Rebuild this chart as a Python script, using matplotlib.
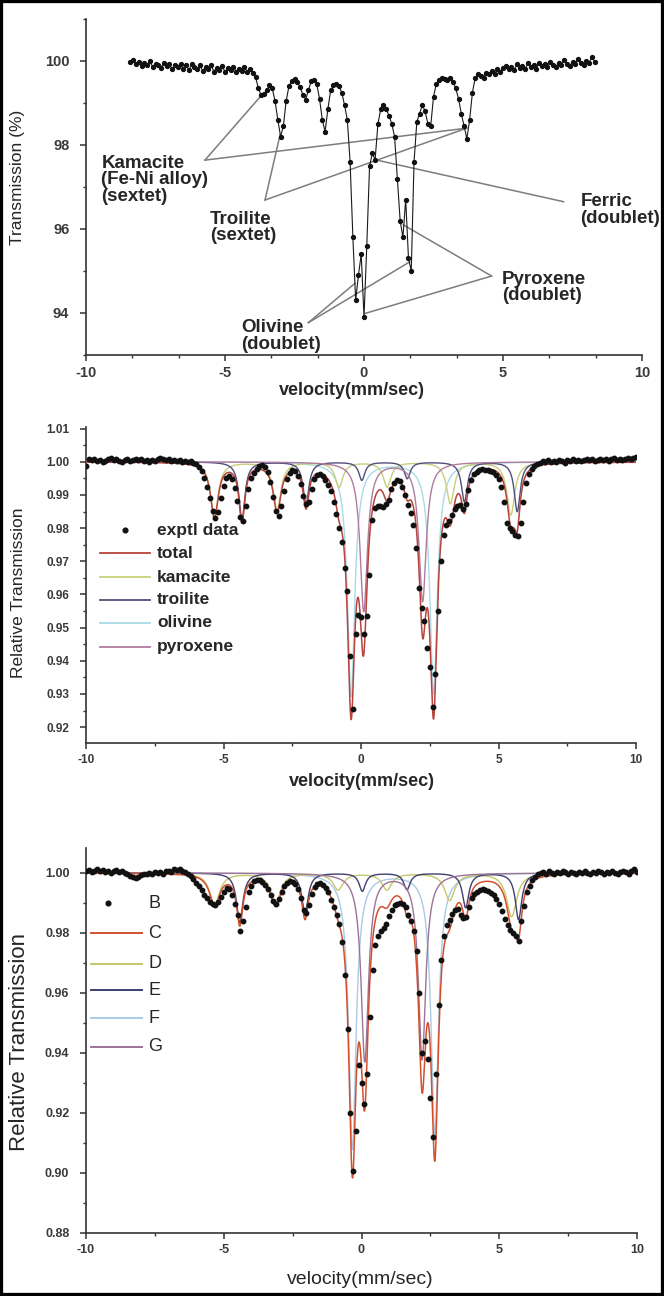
import numpy as np
import matplotlib
matplotlib.use("Agg")
import matplotlib.pyplot as plt
from matplotlib.ticker import MultipleLocator, FormatStrFormatter
from matplotlib.patches import Rectangle

plt.rcParams['font.family'] = ['Liberation Sans', 'DejaVu Sans']
plt.rcParams['axes.unicode_minus'] = False

# ---------------- Panel 1 : measured spectrum (Transmission %) ----------------
p1_left_range = (-8.4, -4.0)
p1_left_y = [99.98, 100.02, 99.93, 99.97, 99.88, 99.95, 99.90, 99.99, 99.86, 99.94,
             99.90, 99.83, 99.96, 99.88, 99.92, 99.80, 99.90, 99.86, 99.94, 99.82,
             99.90, 99.78, 99.92, 99.85, 99.80, 99.90, 99.76, 99.86, 99.81, 99.90,
             99.75, 99.84, 99.79, 99.88, 99.74, 99.83, 99.78, 99.86, 99.75, 99.82,
             99.77, 99.85, 99.74, 99.80, 99.72]
p1_mid_range = (-3.9, 4.1)
p1_mid_y = [99.62, 99.35, 99.18, 99.22, 99.30, 99.42, 99.35, 99.05, 98.60, 98.20,
            98.45, 99.05, 99.40, 99.52, 99.58, 99.50, 99.38, 99.20, 99.08, 99.30,
            99.52, 99.55, 99.45, 99.10, 98.60, 98.32, 98.85, 99.30, 99.42, 99.45,
            99.40, 99.25, 98.95, 98.60, 97.60, 95.80, 94.30, 94.90, 95.40, 93.90,
            95.60, 97.50, 97.80, 97.65, 98.50, 98.85, 98.95, 98.85, 98.70, 98.50,
            98.20, 97.20, 96.20, 95.80, 96.70, 95.30, 95.00, 97.60, 98.55, 98.75,
            98.95, 98.80, 98.50, 98.45, 99.15, 99.45, 99.55, 99.60, 99.58, 99.55,
            99.60, 99.50, 99.35, 99.10, 98.75, 98.45, 98.15, 98.60, 99.25, 99.60,
            99.68]
p1_right_range = (4.2, 8.3)
p1_right_y = [99.65, 99.60, 99.72, 99.68, 99.76, 99.70, 99.80, 99.74, 99.84, 99.88,
              99.80, 99.86, 99.78, 99.92, 99.84, 99.88, 99.80, 99.95, 99.86, 99.90,
              99.82, 99.96, 99.88, 99.93, 99.85, 99.98, 99.90, 99.86, 99.95, 99.90,
              100.02, 99.92, 99.88, 99.97, 99.93, 100.05, 99.95, 99.90, 100.00, 99.96,
              100.10, 99.98]

# ---------------- Panel 2 : fitted spectrum ----------------
p2_range = (-10.0, 10.0)
p2_data = [0.9988, 1.0007, 1.0004, 1.0008, 1.0002, 1.0006, 0.9999, 1.0003, 1.0009, 1.0011,
           1.0005, 1.0008, 1.0002, 0.9998, 1.0004, 1.0007, 1.0001, 1.0006, 1.0010, 1.0004,
           1.0008, 1.0002, 1.0005, 1.0000, 1.0006, 1.0003, 1.0009, 1.0013, 1.0008, 1.0004,
           1.0007, 1.0002, 1.0005, 1.0001, 1.0004, 1.0000, 1.0003, 0.9999, 1.0001, 0.9996,
           0.9992, 0.9984, 0.9972, 0.9952, 0.9925, 0.9890, 0.9852, 0.9830, 0.9848, 0.9892,
           0.9928, 0.9952, 0.9958, 0.9948, 0.9922, 0.9882, 0.9835, 0.9822, 0.9868, 0.9918,
           0.9950, 0.9966, 0.9978, 0.9986, 0.9991, 0.9984, 0.9968, 0.9938, 0.9895, 0.9852,
           0.9836, 0.9866, 0.9912, 0.9948, 0.9966, 0.9976, 0.9972, 0.9958, 0.9932, 0.9896,
           0.9872, 0.9878, 0.9918, 0.9948, 0.9960, 0.9962, 0.9956, 0.9946, 0.9930, 0.9912,
           0.9880, 0.9842, 0.9800, 0.9758, 0.9680, 0.9610, 0.9413, 0.9255, 0.9480, 0.9538,
           0.9532, 0.9482, 0.9535, 0.9660, 0.9825, 0.9862, 0.9868, 0.9866, 0.9865, 0.9872,
           0.9885, 0.9918, 0.9935, 0.9946, 0.9942, 0.9925, 0.9900, 0.9870, 0.9845, 0.9810,
           0.9740, 0.9620, 0.9560, 0.9520, 0.9440, 0.9380, 0.9262, 0.9360, 0.9550, 0.9700,
           0.9780, 0.9808, 0.9822, 0.9840, 0.9858, 0.9866, 0.9870, 0.9858, 0.9872, 0.9915,
           0.9945, 0.9962, 0.9970, 0.9975, 0.9977, 0.9976, 0.9974, 0.9972, 0.9968, 0.9960,
           0.9948, 0.9925, 0.9880, 0.9815, 0.9800, 0.9790, 0.9778, 0.9775, 0.9815, 0.9880,
           0.9935, 0.9962, 0.9978, 0.9988, 0.9993, 0.9997, 1.0002, 0.9998, 1.0004, 0.9999,
           1.0003, 1.0000, 1.0005, 1.0001, 0.9997, 1.0004, 1.0002, 1.0007, 1.0003, 1.0006,
           1.0001, 1.0005, 1.0009, 1.0004, 1.0007, 1.0002, 1.0006, 1.0010, 1.0005, 1.0008,
           1.0003, 1.0007, 1.0011, 1.0006, 1.0009, 1.0004, 1.0010, 1.0013, 1.0008, 1.0012,
           1.0015]
# fitted sub-spectra: line positions (mm/s), absorption depths, half widths
p2_kamacite_pos = [-5.33, -3.05, -0.80, 0.95, 3.25, 5.45]
p2_kamacite_depth = [0.0165, 0.0145, 0.0075, 0.0075, 0.0125, 0.0160]
p2_kamacite_hw = 0.17
p2_troilite_pos = [-4.33, -2.00, 0.03, 1.68, 3.76, 5.68]
p2_troilite_depth = [0.0175, 0.0125, 0.0055, 0.0050, 0.0120, 0.0150]
p2_troilite_hw = 0.13
p2_olivine_pos = [-0.36, 2.64]
p2_olivine_depth = [0.0706, 0.0700]
p2_olivine_hw = 0.16
p2_pyroxene_pos = [0.10, 2.24]
p2_pyroxene_depth = [0.0450, 0.0420]
p2_pyroxene_hw = 0.16
p2_legend = ["exptl data", "total", "kamacite", "troilite", "olivine", "pyroxene"]

# ---------------- Panel 3 : refit spectrum ----------------
p3_range = (-10.0, 10.0)
p3_data = [1.0006, 1.0010, 1.0004, 1.0008, 1.0012, 1.0005, 1.0009, 1.0003, 1.0007, 1.0001,
           1.0005, 1.0009, 1.0003, 1.0006, 1.0000, 0.9996, 0.9990, 0.9985, 0.9982, 0.9988,
           0.9994, 0.9998, 0.9995, 1.0000, 0.9997, 1.0003, 0.9999, 1.0002, 0.9998, 1.0005,
           1.0008, 1.0004, 1.0012, 1.0009, 1.0013, 1.0006, 1.0004, 0.9998, 0.9990, 0.9980,
           0.9968, 0.9955, 0.9942, 0.9928, 0.9915, 0.9903, 0.9895, 0.9893, 0.9902, 0.9920,
           0.9938, 0.9950, 0.9946, 0.9925, 0.9895, 0.9860, 0.9805, 0.9840, 0.9888, 0.9935,
           0.9958, 0.9972, 0.9978, 0.9976, 0.9970, 0.9960, 0.9945, 0.9928, 0.9905, 0.9895,
           0.9912, 0.9935, 0.9958, 0.9968, 0.9972, 0.9970, 0.9962, 0.9945, 0.9915, 0.9875,
           0.9865, 0.9892, 0.9930, 0.9952, 0.9963, 0.9966, 0.9960, 0.9950, 0.9935, 0.9910,
           0.9885, 0.9860, 0.9830, 0.9770, 0.9660, 0.9480, 0.9200, 0.9005, 0.9140, 0.9360,
           0.9300, 0.9230, 0.9330, 0.9520, 0.9676, 0.9760, 0.9790, 0.9805, 0.9818, 0.9830,
           0.9855, 0.9875, 0.9893, 0.9898, 0.9900, 0.9895, 0.9885, 0.9860, 0.9840, 0.9805,
           0.9740, 0.9600, 0.9400, 0.9440, 0.9380, 0.9250, 0.9120, 0.9330, 0.9560, 0.9710,
           0.9790, 0.9825, 0.9844, 0.9862, 0.9876, 0.9880, 0.9860, 0.9850, 0.9852, 0.9885,
           0.9915, 0.9930, 0.9938, 0.9942, 0.9945, 0.9944, 0.9940, 0.9934, 0.9925, 0.9912,
           0.9895, 0.9872, 0.9845, 0.9825, 0.9810, 0.9800, 0.9790, 0.9773, 0.9840, 0.9890,
           0.9935, 0.9958, 0.9975, 0.9988, 0.9995, 1.0000, 1.0004, 0.9998, 1.0005, 1.0001,
           0.9996, 1.0003, 0.9999, 1.0006, 1.0002, 0.9998, 1.0004, 1.0000, 0.9997, 1.0003,
           0.9999, 1.0005, 1.0001, 0.9997, 1.0003, 0.9999, 1.0006, 1.0002, 0.9998, 1.0004,
           1.0000, 1.0005, 1.0001, 0.9997, 1.0003, 1.0007, 1.0002, 0.9998, 1.0006, 1.0012,
           1.0004]
p3_D_pos = [-5.33, -3.12, -0.85, 0.92, 3.20, 5.45]
p3_D_depth = [0.0105, 0.0100, 0.0055, 0.0055, 0.0090, 0.0145]
p3_D_hw = 0.22
p3_E_pos = [-4.42, -2.05, 0.03, 1.65, 3.78, 5.70]
p3_E_depth = [0.0165, 0.0135, 0.0060, 0.0055, 0.0115, 0.0155]
p3_E_hw = 0.14
p3_F_pos = [-0.33, 2.66]
p3_F_depth = [0.0920, 0.0870]
p3_F_hw = 0.16
p3_G_pos = [0.12, 2.20]
p3_G_depth = [0.0627, 0.0620]
p3_G_hw = 0.16
p3_legend = ["B", "C", "D", "E", "F", "G"]


def absorb(v, pos, depth, hw):
    out = np.zeros_like(v)
    for p, d in zip(pos, depth):
        out += d * hw ** 2 / ((v - p) ** 2 + hw ** 2)
    return out


W, H = 664, 1296
fig = plt.figure(figsize=(W / 100, H / 100), dpi=100)


def rect(l, r, t, b):
    return [l / W, 1 - b / H, (r - l) / W, (b - t) / H]


TXT = '#262626'
TCK = '#3a3a3a'


def style(ax, fs_tick, weight='bold'):
    for s in ['top', 'right']:
        ax.spines[s].set_visible(False)
    for s in ['left', 'bottom']:
        ax.spines[s].set_linewidth(1.2)
        ax.spines[s].set_color('#333333')
    ax.tick_params(which='major', direction='out', length=4, width=1.1,
                   colors='#333333', labelsize=fs_tick, labelcolor=TCK)
    ax.tick_params(axis='x', which='major', pad=4)
    ax.tick_params(axis='y', which='major', pad=8)
    ax.tick_params(which='minor', direction='out', length=2.5, width=1.0, colors='#333333')
    for lab in ax.get_xticklabels() + ax.get_yticklabels():
        lab.set_fontweight(weight)


def labels(ax, xl, yl, xfs, yfs, xw, yw, xpos, ypos):
    ax.set_xlabel(xl, fontsize=xfs, fontweight=xw, color=TXT, va='center')
    ax.xaxis.set_label_coords(*xpos)
    ax.set_ylabel(yl, fontsize=yfs, fontweight=yw, color=TXT, va='center')
    ax.yaxis.set_label_coords(*ypos)


# ================= Panel 1 =================
ax1 = fig.add_axes(rect(86, 642, 19, 355))
x1 = np.concatenate([np.linspace(*p1_left_range, len(p1_left_y)),
                     np.linspace(*p1_mid_range, len(p1_mid_y)),
                     np.linspace(*p1_right_range, len(p1_right_y))])
y1 = np.array(p1_left_y + p1_mid_y + p1_right_y)
ax1.plot(x1, y1, '-', color='#1a1a1a', lw=0.8, marker='o', ms=2.8, mec='#111111', mfc='#111111')
ax1.set_xlim(-10, 10)
ax1.set_ylim(93, 101)
ax1.set_xticks([-10, -5, 0, 5, 10])
ax1.xaxis.set_minor_locator(MultipleLocator(5 / 3))
ax1.set_yticks([94, 96, 98, 100])
ax1.yaxis.set_minor_locator(MultipleLocator(1))
style(ax1, 10.5)
labels(ax1, 'velocity(mm/sec)', 'Transmission (%)', 13, 12.5, 'bold', 'normal',
       (0.478, -0.105), (-0.124, 0.53))

gray = '#7d7d7d'
ann_lines = [((-5.72, 97.64), (-3.68, 99.19)), ((-5.72, 97.64), (3.69, 98.40)),
             ((-3.56, 96.69), (-3.02, 98.24)), ((-3.56, 96.69), (3.69, 98.40)),
             ((7.18, 96.65), (0.46, 97.64)),
             ((-2.00, 93.77), (-0.32, 94.71)), ((-2.00, 93.77), (1.65, 95.22)),
             ((4.59, 94.88), (1.41, 96.10)), ((4.59, 94.88), (0.04, 93.99))]
for a, b in ann_lines:
    ax1.plot([a[0], b[0]], [a[1], b[1]], color=gray, lw=1.1, zorder=1, clip_on=False)
ann_text = [(-9.45, 97.17, "Kamacite\n(Fe-Ni alloy)\n(sextet)"),
            (-5.55, 96.04, "Troilite\n(sextet)"),
            (7.79, 96.45, "Ferric\n(doublet)"),
            (4.96, 94.60, "Pyroxene\n(doublet)"),
            (-4.41, 93.45, "Olivine\n(doublet)")]
for xx, yy, t in ann_text:
    ax1.text(xx, yy, t, ha='left', va='center', fontsize=13.5, fontweight='bold',
             color=TXT, linespacing=0.95, clip_on=False)

vel = np.linspace(-10, 10, 4001)

# ================= Panel 2 =================
ax2 = fig.add_axes(rect(86, 636, 427, 743))
x2 = np.linspace(*p2_range, len(p2_data))
a_k = absorb(vel, p2_kamacite_pos, p2_kamacite_depth, p2_kamacite_hw)
a_t = absorb(vel, p2_troilite_pos, p2_troilite_depth, p2_troilite_hw)
a_o = absorb(vel, p2_olivine_pos, p2_olivine_depth, p2_olivine_hw)
a_p = absorb(vel, p2_pyroxene_pos, p2_pyroxene_depth, p2_pyroxene_hw)
c2 = {'total': '#b8423c', 'kamacite': '#c8cf7c', 'troilite': '#4f4f7c',
      'olivine': '#a8dbe6', 'pyroxene': '#b07c9e'}
ax2.plot(vel, 1 - a_o, color=c2['olivine'], lw=1.0, zorder=2)
ax2.plot(vel, 1 - a_k, color=c2['kamacite'], lw=1.0, zorder=2)
ax2.plot(vel, 1 - a_t, color=c2['troilite'], lw=1.0, zorder=2)
ax2.plot(vel, 1 - a_p, color=c2['pyroxene'], lw=1.0, zorder=2)
ax2.plot(vel, 1 - (a_k + a_t + a_o + a_p), color=c2['total'], lw=1.1, zorder=3)
ax2.plot(x2, p2_data, 'o', color='#111111', ms=3.2, zorder=4)
ax2.set_xlim(-10, 10)
ax2.set_ylim(0.9152, 1.0105)
ax2.set_xticks([-10, -5, 0, 5, 10])
ax2.xaxis.set_minor_locator(MultipleLocator(2.5))
ax2.set_yticks(np.round(np.arange(0.92, 1.0101, 0.01), 2))
ax2.yaxis.set_major_formatter(FormatStrFormatter('%.2f'))
ax2.yaxis.set_minor_locator(MultipleLocator(0.005))
style(ax2, 8.5)
labels(ax2, 'velocity(mm/sec)', 'Relative Transmission', 13, 12.5, 'bold', 'normal',
       (0.502, -0.122), (-0.122, 0.475))
leg_rows2 = [0.674, 0.601, 0.525, 0.453, 0.380, 0.304]
leg_cols2 = [None, c2['total'], c2['kamacite'], c2['troilite'], c2['olivine'], c2['pyroxene']]
for lab, yy, col in zip(p2_legend, leg_rows2, leg_cols2):
    if col is None:
        ax2.plot([0.071], [yy], 'o', color='#111111', ms=3.4, transform=ax2.transAxes, clip_on=False)
    else:
        ax2.plot([0.025, 0.117], [yy, yy], color=col, lw=1.3, transform=ax2.transAxes)
    ax2.text(0.129, yy, lab, transform=ax2.transAxes, va='center', ha='left',
             fontsize=12.5, fontweight='bold', color=TXT)

# ================= Panel 3 =================
ax3 = fig.add_axes(rect(86, 637, 848, 1233))
x3 = np.linspace(*p3_range, len(p3_data))
b_d = absorb(vel, p3_D_pos, p3_D_depth, p3_D_hw)
b_e = absorb(vel, p3_E_pos, p3_E_depth, p3_E_hw)
b_f = absorb(vel, p3_F_pos, p3_F_depth, p3_F_hw)
b_g = absorb(vel, p3_G_pos, p3_G_depth, p3_G_hw)
c3 = {'C': '#d2502e', 'D': '#c6c66a', 'E': '#3f3f70', 'F': '#aacbe6', 'G': '#9c7496'}
ax3.plot(vel, 1 - b_f, color=c3['F'], lw=1.0, zorder=2)
ax3.plot(vel, 1 - b_d, color=c3['D'], lw=1.0, zorder=2)
ax3.plot(vel, 1 - b_e, color=c3['E'], lw=1.0, zorder=2)
ax3.plot(vel, 1 - b_g, color=c3['G'], lw=1.0, zorder=2)
ax3.plot(vel, 1 - (b_d + b_e + b_f + b_g), color=c3['C'], lw=1.1, zorder=3)
ax3.plot(x3, p3_data, 'o', color='#111111', ms=3.2, zorder=4)
ax3.set_xlim(-10, 10)
ax3.set_ylim(0.88, 1.0083)
ax3.set_xticks([-10, -5, 0, 5, 10])
ax3.xaxis.set_minor_locator(MultipleLocator(2.5))
ax3.set_yticks(np.round(np.arange(0.88, 1.0001, 0.02), 2))
ax3.yaxis.set_major_formatter(FormatStrFormatter('%.2f'))
ax3.yaxis.set_minor_locator(MultipleLocator(0.01))
style(ax3, 9)
labels(ax3, 'velocity(mm/sec)', 'Relative Transmission', 14, 16, 'normal', 'normal',
       (0.497, -0.122), (-0.12, 0.497))
leg_rows3 = [0.856, 0.778, 0.700, 0.631, 0.558, 0.484]
leg_cols3 = [None, c3['C'], c3['D'], c3['E'], c3['F'], c3['G']]
for lab, yy, col in zip(p3_legend, leg_rows3, leg_cols3):
    if col is None:
        ax3.plot([0.040], [yy], 'o', color='#111111', ms=3.4, transform=ax3.transAxes, clip_on=False)
    else:
        ax3.plot([0.009, 0.102], [yy, yy], color=col, lw=1.4, transform=ax3.transAxes)
    ax3.text(0.113, yy, lab, transform=ax3.transAxes, va='center', ha='left',
             fontsize=13, color=TXT)

# outer black frame
fig.add_artist(Rectangle((0, 0), 1, 1, transform=fig.transFigure, fill=False,
                         ec='black', lw=4.5, zorder=10))

fig.savefig('out.png', dpi=100)
